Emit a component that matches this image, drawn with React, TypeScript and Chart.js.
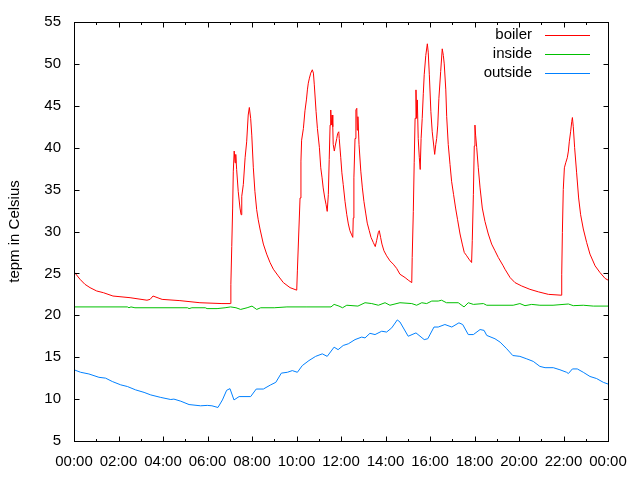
import { useEffect, useRef } from "react";
import { Chart, registerables } from "chart.js";

Chart.register(...registerables);

// ---- data (hour of day, temperature °C) ----
const seriesNames = ["boiler", "inside", "outside"];
const seriesColors = ["#ff0000", "#00c000", "#0080ff"];
const yTickValues = [5, 10, 15, 20, 25, 30, 35, 40, 45, 50, 55];
const xMajorHours = [0, 2, 4, 6, 8, 10, 12, 14, 16, 18, 20, 22, 24];
const axisTitle = "tepm in Celsius";

const boilerData: number[][] = [
  [0.0, 25.2], [0.27, 24.3], [0.49, 23.7], [0.72, 23.3], [1.02, 22.9], [1.32, 22.7],
  [1.75, 22.3], [2.52, 22.1], [3.28, 21.8], [3.42, 21.9], [3.55, 22.3], [3.96, 21.9],
  [4.76, 21.75], [5.66, 21.5], [6.65, 21.4], [7.04, 21.4],
  [7.05, 23.7], [7.09, 28.2], [7.13, 32.8], [7.16, 37.2], [7.2, 39.6], [7.24, 38.2],
  [7.27, 39.2], [7.31, 37.4], [7.38, 34.8], [7.46, 32.8], [7.51, 32.0], [7.54, 34.2],
  [7.61, 35.6], [7.69, 38.8], [7.76, 40.7], [7.83, 43.9], [7.88, 44.8], [7.94, 43.5],
  [7.99, 41.5], [8.06, 37.6], [8.13, 34.8], [8.21, 32.6], [8.28, 31.4], [8.36, 30.3],
  [8.51, 28.5], [8.66, 27.3], [8.81, 26.3], [8.96, 25.5], [9.18, 24.7], [9.41, 23.9],
  [9.71, 23.3], [10.01, 23.0],
  [10.04, 25.3], [10.1, 29.7], [10.16, 34.0], [10.2, 38.4], [10.23, 40.9], [10.31, 42.3],
  [10.38, 44.4], [10.45, 45.8], [10.49, 46.9], [10.53, 47.7], [10.58, 48.3], [10.64, 48.9],
  [10.71, 49.3], [10.76, 48.9], [10.8, 47.5], [10.88, 44.3], [10.94, 42.3], [11.03, 40.0],
  [11.09, 37.6], [11.15, 36.4], [11.2, 35.2], [11.27, 34.0], [11.33, 33.2], [11.38, 32.4],
  [11.43, 34.4], [11.47, 38.6], [11.51, 42.7], [11.54, 44.5], [11.56, 42.7], [11.6, 43.9],
  [11.63, 42.5], [11.65, 40.4], [11.7, 39.6], [11.74, 40.2], [11.81, 41.1], [11.85, 41.7],
  [11.9, 41.9], [11.92, 41.1], [11.99, 38.8], [12.04, 37.0], [12.1, 35.6], [12.18, 33.6],
  [12.26, 32.0], [12.33, 30.9], [12.4, 30.1], [12.48, 29.6], [12.53, 29.3],
  [12.55, 31.6], [12.58, 36.4], [12.63, 41.1], [12.67, 44.5], [12.71, 44.7], [12.73, 42.1],
  [12.76, 43.7], [12.81, 40.4], [12.89, 37.2], [12.96, 35.2], [13.03, 33.6], [13.11, 32.2],
  [13.18, 31.0], [13.27, 30.1], [13.35, 29.3], [13.45, 28.7], [13.54, 28.2], [13.6, 28.9],
  [13.68, 29.9], [13.72, 30.1], [13.78, 29.3], [13.84, 28.5], [13.93, 27.7], [14.05, 27.1],
  [14.2, 26.5], [14.35, 26.1], [14.5, 25.6], [14.65, 24.9], [14.88, 24.5], [15.02, 24.2],
  [15.18, 23.9],
  [15.2, 26.9], [15.25, 32.4], [15.29, 38.2], [15.33, 43.5], [15.37, 46.9], [15.4, 43.5],
  [15.43, 45.7], [15.47, 41.1], [15.52, 38.8], [15.56, 37.4], [15.6, 41.1], [15.65, 43.5],
  [15.7, 46.5], [15.74, 48.7], [15.81, 51.0], [15.88, 52.4], [15.92, 51.4], [15.97, 48.7],
  [16.04, 44.3], [16.1, 41.9], [16.17, 40.2], [16.21, 39.2], [16.26, 40.4], [16.3, 41.1],
  [16.35, 42.7], [16.4, 45.9], [16.48, 49.1], [16.55, 51.8], [16.6, 51.0], [16.64, 50.0],
  [16.71, 46.9], [16.75, 43.7], [16.82, 40.4], [16.9, 38.0], [16.97, 36.0], [17.06, 34.4],
  [17.15, 32.8], [17.24, 31.4], [17.35, 29.7], [17.45, 28.5], [17.54, 27.5], [17.65, 27.1],
  [17.75, 26.7], [17.87, 26.3],
  [17.9, 28.9], [17.95, 34.4], [17.99, 40.2], [18.02, 42.7], [18.05, 41.5], [18.1, 40.0],
  [18.17, 37.6], [18.25, 35.2], [18.35, 32.8], [18.47, 31.2], [18.62, 29.7], [18.77, 28.5],
  [18.92, 27.7], [19.07, 26.9], [19.29, 25.9], [19.37, 25.5], [19.6, 24.5], [19.82, 23.9],
  [20.12, 23.5], [20.49, 23.1], [20.87, 22.8], [21.32, 22.5], [21.89, 22.4],
  [21.92, 24.9], [21.95, 29.9], [21.99, 35.0], [22.04, 37.6], [22.1, 38.2], [22.17, 38.8],
  [22.22, 39.6], [22.26, 40.7], [22.32, 41.9], [22.37, 43.1], [22.4, 43.6], [22.44, 42.5],
  [22.5, 40.0], [22.59, 37.0], [22.68, 34.0], [22.77, 32.0], [22.89, 30.3], [23.04, 28.7],
  [23.19, 27.3], [23.42, 25.9], [23.64, 25.1], [23.87, 24.4], [24.0, 24.2],
];

const insideData: number[][] = [
  [0.0, 21.0], [2.4, 21.0], [2.47, 20.9], [2.56, 21.0], [2.74, 20.9], [5.1, 20.9],
  [5.17, 20.8], [5.3, 20.9], [5.9, 20.9], [5.98, 20.8], [6.43, 20.8], [6.79, 20.9],
  [7.04, 21.0], [7.28, 20.9], [7.49, 20.7], [7.78, 20.9], [8.0, 21.1], [8.21, 20.7],
  [8.39, 20.9], [9.0, 20.9], [9.57, 21.0], [10.47, 21.0], [11.55, 21.0], [11.69, 21.3],
  [11.91, 21.1], [12.07, 20.9], [12.26, 21.2], [12.76, 21.1], [13.08, 21.5], [13.38, 21.4],
  [13.68, 21.2], [13.98, 21.5], [14.2, 21.2], [14.65, 21.5], [15.18, 21.4], [15.4, 21.2],
  [15.63, 21.5], [15.85, 21.4], [16.08, 21.7], [16.37, 21.7], [16.52, 21.8], [16.74, 21.5],
  [17.27, 21.5], [17.53, 21.0], [17.72, 21.5], [17.95, 21.3], [18.4, 21.4], [18.55, 21.2],
  [19.74, 21.2], [20.04, 21.4], [20.27, 21.15], [20.57, 21.3], [20.94, 21.2], [21.53, 21.2],
  [22.22, 21.35], [22.44, 21.15], [22.89, 21.2], [23.34, 21.1], [24.0, 21.1],
];

const outsideData: number[][] = [
  [0.0, 13.5], [0.3, 13.2], [0.67, 13.0], [1.12, 12.6], [1.42, 12.5], [1.72, 12.1],
  [2.1, 11.7], [2.4, 11.5], [2.77, 11.1], [3.15, 10.8], [3.45, 10.5], [3.9, 10.2],
  [4.35, 9.95], [4.49, 10.0], [4.8, 9.75], [5.17, 9.35], [5.69, 9.2], [5.99, 9.25],
  [6.2, 9.2], [6.47, 9.0], [6.67, 9.9], [6.86, 11.05], [7.01, 11.25], [7.19, 9.9],
  [7.42, 10.3], [7.94, 10.3], [8.19, 11.2], [8.51, 11.2], [8.84, 11.7], [9.07, 12.0],
  [9.32, 13.1], [9.59, 13.2], [9.81, 13.4], [10.04, 13.2], [10.26, 14.0], [10.56, 14.6],
  [10.86, 15.1], [11.16, 15.4], [11.38, 15.1], [11.69, 16.2], [11.87, 15.9], [12.1, 16.4],
  [12.33, 16.6], [12.63, 17.1], [12.93, 17.4], [13.08, 17.3], [13.3, 17.85], [13.53, 17.7],
  [13.83, 18.1], [14.05, 18.0], [14.28, 18.5], [14.53, 19.45], [14.65, 19.2], [15.02, 17.5],
  [15.37, 17.9], [15.74, 17.1], [15.9, 17.2], [16.18, 18.6], [16.37, 18.6], [16.67, 18.9],
  [16.98, 18.6], [17.3, 19.1], [17.47, 18.9], [17.72, 17.7], [17.95, 17.7], [18.25, 18.3],
  [18.43, 18.2], [18.55, 17.6], [18.92, 17.2], [19.15, 16.8], [19.45, 16.0], [19.72, 15.2],
  [20.04, 15.1], [20.35, 14.8], [20.64, 14.5], [20.94, 13.9], [21.17, 13.75], [21.54, 13.75],
  [21.84, 13.5], [22.14, 13.2], [22.22, 13.05], [22.4, 13.6], [22.62, 13.6], [22.89, 13.2],
  [23.19, 12.7], [23.49, 12.45], [23.79, 12.0], [24.0, 11.8],
];

const allSeries = [boilerData, insideData, outsideData];

const FONT = "'Liberation Sans', Arial, sans-serif";
const FONT_SIZE = 15;

const crisp = (v: number) => Math.round(v) + 0.5;

const framePlugin = {
  id: "gnuplotFrame",
  afterDatasetsDraw(chart: any) {
    const { ctx, chartArea: a, scales } = chart;
    const xs = scales.x;
    const ys = scales.y;
    const L = crisp(a.left), R = crisp(a.right), T = crisp(a.top), B = crisp(a.bottom);
    ctx.save();
    ctx.strokeStyle = "#000";
    ctx.lineWidth = 1;
    ctx.beginPath();
    // x ticks (major every 2h, minor every hour), bottom and top
    for (let h = 0; h <= 24; h++) {
      const len = h % 2 === 0 ? 5 : 2.5;
      const px = crisp(xs.getPixelForValue(h));
      ctx.moveTo(px, B);
      ctx.lineTo(px, B - len);
      ctx.moveTo(px, T);
      ctx.lineTo(px, T + len);
    }
    // y ticks left and right
    for (const v of yTickValues) {
      const py = crisp(ys.getPixelForValue(v));
      ctx.moveTo(L, py);
      ctx.lineTo(L + 5, py);
      ctx.moveTo(R, py);
      ctx.lineTo(R - 5, py);
    }
    ctx.stroke();
    ctx.strokeRect(L, T, R - L, B - T);

    // key (legend) top-right inside the plot
    ctx.font = `${FONT_SIZE}px ${FONT}`;
    ctx.textAlign = "right";
    ctx.textBaseline = "middle";
    ctx.fillStyle = "#000";
    chart.data.datasets.forEach((ds: any, i: number) => {
      const yy = a.top + 13 + i * 19;
      ctx.fillText(ds.label, a.right - 76, yy);
      ctx.strokeStyle = ds.borderColor;
      ctx.beginPath();
      ctx.moveTo(a.right - 63, crisp(yy));
      ctx.lineTo(a.right - 18, crisp(yy));
      ctx.stroke();
    });
    ctx.restore();
  },
};

export default function App() {
  const canvasRef = useRef<HTMLCanvasElement | null>(null);

  useEffect(() => {
    document.body.style.margin = "0";
    const canvas = canvasRef.current;
    if (!canvas) return;
    Chart.defaults.color = "#000";
    Chart.defaults.font.family = FONT;
    Chart.defaults.font.size = FONT_SIZE;

    const chart = new Chart(canvas, {
      type: "line",
      data: {
        datasets: allSeries.map((s, i) => ({
          label: seriesNames[i],
          data: s.map((p) => ({ x: p[0], y: p[1] })),
          borderColor: seriesColors[i],
          backgroundColor: seriesColors[i],
          borderWidth: 1,
          pointRadius: 0,
          tension: 0,
          fill: false,
        })),
      },
      options: {
        animation: false,
        responsive: false,
        devicePixelRatio: 1,
        layout: { padding: { top: 20, right: 32, left: 0, bottom: 0 } },
        plugins: {
          legend: { display: false },
          tooltip: { enabled: false },
        },
        scales: {
          x: {
            type: "linear",
            min: 0,
            max: 24,
            afterBuildTicks: (scale: any) => {
              scale.ticks = xMajorHours.map((v) => ({ value: v }));
            },
            afterFit: (scale: any) => {
              scale.height = 39;
            },
            grid: { display: false, drawTicks: false, tickLength: 0 },
            border: { display: false },
            ticks: {
              autoSkip: false,
              maxRotation: 0,
              padding: 12,
              callback: (v: any) => String(Number(v) % 24).padStart(2, "0") + ":00",
            },
          },
          y: {
            type: "linear",
            min: 5,
            max: 55,
            afterBuildTicks: (scale: any) => {
              scale.ticks = yTickValues.map((v) => ({ value: v }));
            },
            afterFit: (scale: any) => {
              scale.width = 74;
            },
            grid: { display: false, drawTicks: false, tickLength: 0 },
            border: { display: false },
            ticks: { autoSkip: false, padding: 13 },
            title: {
              display: true,
              text: axisTitle,
              padding: { top: 6, bottom: 4 },
            },
          },
        },
      },
      plugins: [framePlugin],
    });
    return () => chart.destroy();
  }, []);

  return (
    <canvas
      ref={canvasRef}
      width={640}
      height={480}
      style={{ display: "block", width: 640, height: 480 }}
    />
  );
}
